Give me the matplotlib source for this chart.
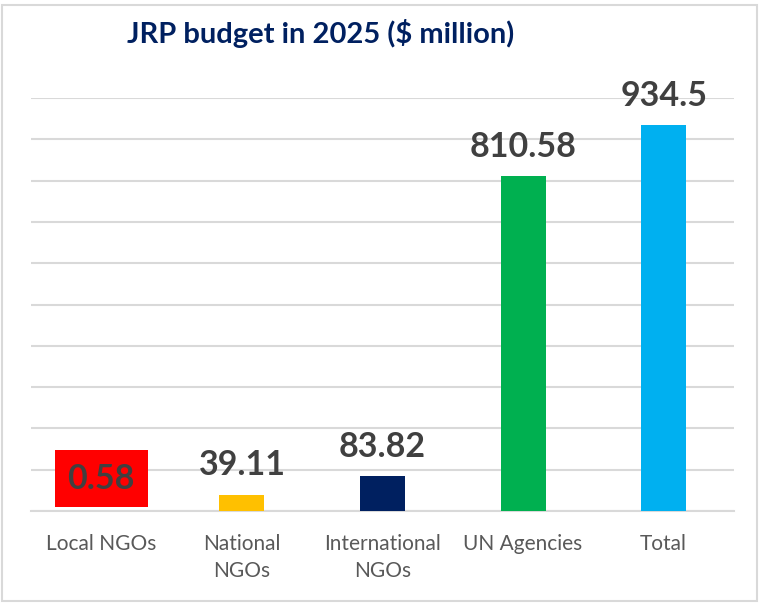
import matplotlib.pyplot as plt
from matplotlib.patches import Rectangle

# chart data
categories = ['Local NGOs', 'National\nNGOs', 'International\nNGOs', 'UN Agencies', 'Total']
budget = [0.58, 39.11, 83.82, 810.58, 934.5]
labels = ['0.58', '39.11', '83.82', '810.58', '934.5']
colors = ['#c5cbe8', '#FFC000', '#002060', '#00B050', '#00B0F0']

plt.rcParams['font.family'] = ['Lato', 'DejaVu Sans']

fig = plt.figure(figsize=(7.6, 6.03), dpi=100)
ax = fig.add_axes([31 / 760, 92 / 603, 703 / 760, 413 / 603])

x = range(len(categories))
bars = ax.bar(x, budget, width=0.32, color=colors, zorder=3)

ax.set_xlim(-0.5, len(categories) - 0.5)
ax.set_ylim(0, 1000)
ax.set_yticks(range(0, 1001, 100))
ax.yaxis.grid(True, color='#d9d9d9', linewidth=1.5, zorder=0)
ax.tick_params(axis='y', left=False, labelleft=False)
ax.tick_params(axis='x', bottom=False, pad=13)
ax.set_xticks(list(x))
ax.set_xticklabels(categories, fontsize=15, color='#595959', linespacing=1.45)
for s in ['top', 'right', 'left']:
    ax.spines[s].set_visible(False)
ax.spines['bottom'].set_color('#d9d9d9')
ax.spines['bottom'].set_linewidth(1.5)

# value labels above bars
for i, (b, lab) in enumerate(zip(bars, labels)):
    kw = {}
    off = 14
    if i == 0:
        kw['bbox'] = dict(boxstyle='square,pad=0.38', facecolor='#FF0000', edgecolor='none')
        off = 16
    ax.annotate(lab, (b.get_x() + b.get_width() / 2, b.get_height()),
                xytext=(0, off), textcoords='offset points',
                ha='center', va='baseline', fontsize=24.5, fontweight='bold',
                color='#404040', zorder=4, **kw)

fig.text(321 / 760, 1 - 33 / 603, 'JRP budget in 2025 ($ million)', ha='center', va='center',
         fontsize=21, fontweight='bold', color='#002060')

# outer border of the chart area
fig.patches.append(Rectangle((2 / 760, 2 / 603), 755 / 760, 596 / 603, transform=fig.transFigure,
                             fill=False, edgecolor='#d9d9d9', linewidth=1.5))

fig.savefig('out.png', dpi=100)
